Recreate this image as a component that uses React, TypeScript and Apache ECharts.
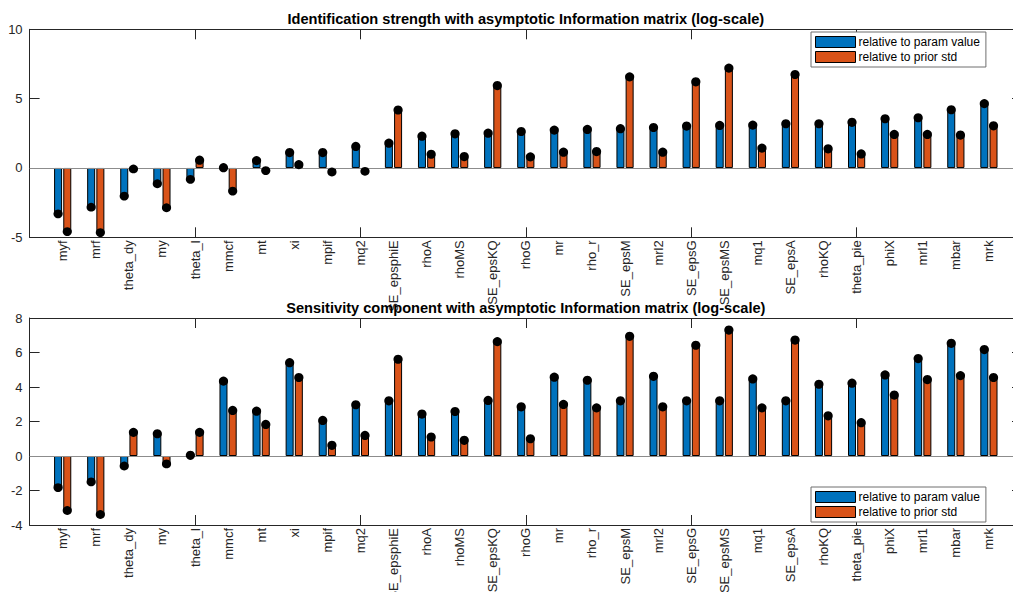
import React, { useEffect, useRef } from "react";
import * as echarts from "echarts";

// Parameter names along the horizontal axis (same order in both panels)
const categories = [
  "myf", "mrf", "theta_dy", "my", "theta_l", "mmcf", "mt", "xi", "mpif", "mq2",
  "SE_epsphiE", "rhoA", "rhoMS", "SE_epsKQ", "rhoG", "mr", "rho_r", "SE_epsM",
  "mrl2", "SE_epsG", "SE_epsMS", "mq1", "SE_epsA", "rhoKQ", "theta_pie", "phiX",
  "mrl1", "mbar", "mrk",
];

// Identification strength (log-scale)
const identParam = [
  -3.31, -2.83, -2.03, -1.14, -0.82, 0.02, 0.53, 1.11, 1.11, 1.55,
  1.79, 2.29, 2.46, 2.51, 2.63, 2.73, 2.78, 2.83, 2.92, 3.02,
  3.07, 3.09, 3.19, 3.19, 3.29, 3.55, 3.62, 4.2, 4.64,
];
const identPrior = [
  -4.59, -4.66, -0.07, -2.87, 0.56, -1.67, -0.19, 0.24, -0.29, -0.24,
  4.18, 0.99, 0.82, 5.94, 0.8, 1.14, 1.18, 6.57, 1.14, 6.21,
  7.2, 1.43, 6.74, 1.38, 1.01, 2.42, 2.42, 2.37, 3.04,
];

// Sensitivity component (log-scale)
const sensParam = [
  -1.83, -1.5, -0.58, 1.29, 0.04, 4.34, 2.6, 5.41, 2.06, 2.97,
  3.2, 2.43, 2.58, 3.22, 2.85, 4.57, 4.39, 3.2, 4.62, 3.2,
  3.2, 4.47, 3.2, 4.16, 4.22, 4.7, 5.65, 6.53, 6.17,
];
const sensPrior = [
  -3.16, -3.39, 1.37, -0.46, 1.37, 2.64, 1.83, 4.55, 0.62, 1.19,
  5.61, 1.1, 0.91, 6.63, 1.0, 2.99, 2.79, 6.94, 2.85, 6.42,
  7.3, 2.79, 6.72, 2.33, 1.93, 3.53, 4.43, 4.66, 4.55,
];

const identTicks = { min: -5, max: 10, interval: 5 };
const sensTicks = { min: -4, max: 8, interval: 2 };

const titles = [
  "Identification strength with asymptotic Information matrix (log-scale)",
  "Sensitivity component with asymptotic Information matrix (log-scale)",
];
const seriesNames = ["relative to param value", "relative to prior std"];

const BLUE = "#0072BD";
const ORANGE = "#D95319";
const AXIS = "#262626";
const FONT = "'Liberation Sans', Arial, Helvetica, sans-serif";

const GRID_LEFT = 29.6;
const GRID_WIDTH = 992.4;
const grids = [
  { top: 29.3, height: 208 },
  { top: 318, height: 207 },
];

// Axis runs from 0 to 30 with the parameters at 1..29
const axisCats = ["", ...categories, ""];
const padBars = (vals: number[]) => [null, ...vals, null];
const padDots = (vals: number[]) => [
  "-",
  ...vals.map((v) => ({ value: v, symbolOffset: [0, v >= 0 ? "-50%" : "50%"] })),
  "-",
];

const tickEvery5 = (i: number) => i > 0 && i < 30 && i % 5 === 0;

function panel(g: number, param: number[], prior: number[], ticks: any) {
  const xAxes = [
    {
      type: "category",
      gridIndex: g,
      data: axisCats,
      boundaryGap: false,
      position: "bottom",
      axisLine: { show: true, onZero: false, lineStyle: { color: AXIS, width: 1 } },
      axisTick: { show: true, inside: true, length: 10, interval: tickEvery5, lineStyle: { color: AXIS } },
      axisLabel: {
        show: true,
        interval: 0,
        rotate: 90,
        margin: 3,
        fontSize: 13,
        color: AXIS,
        fontFamily: FONT,
      },
      splitLine: { show: false },
    },
    {
      type: "category",
      gridIndex: g,
      data: axisCats,
      boundaryGap: false,
      position: "top",
      axisLine: { show: true, onZero: false, lineStyle: { color: AXIS, width: 1 } },
      axisTick: { show: true, inside: true, length: 10, interval: tickEvery5, lineStyle: { color: AXIS } },
      axisLabel: { show: false },
      splitLine: { show: false },
    },
  ];
  const yAxes = [
    {
      type: "value",
      gridIndex: g,
      position: "left",
      ...ticks,
      axisLine: { show: true, onZero: false, lineStyle: { color: AXIS, width: 1 } },
      axisTick: { show: true, inside: true, length: 10, lineStyle: { color: AXIS } },
      axisLabel: { show: true, margin: 7, fontSize: 13, color: AXIS, fontFamily: FONT },
      splitLine: { show: false },
    },
    {
      type: "value",
      gridIndex: g,
      position: "right",
      ...ticks,
      axisLine: { show: true, onZero: false, lineStyle: { color: AXIS, width: 1 } },
      axisTick: { show: true, inside: true, length: 10, lineStyle: { color: AXIS } },
      axisLabel: { show: false },
      splitLine: { show: false },
    },
  ];
  const xi = 2 * g;
  const yi = 2 * g;
  const barCommon = {
    type: "bar",
    xAxisIndex: xi,
    yAxisIndex: yi,
    barWidth: 8,
    barGap: "15%",
    itemStyle: { borderColor: "#000", borderWidth: 1 },
  };
  const dotCommon = {
    type: "pictorialBar",
    xAxisIndex: xi,
    yAxisIndex: yi,
    barWidth: 8,
    barGap: "15%",
    symbol: "circle",
    symbolSize: [9, 9],
    symbolPosition: "end",
    itemStyle: { color: "#000" },
    z: 5,
  };
  const series = [
    {
      ...barCommon,
      name: seriesNames[0],
      data: padBars(param),
      itemStyle: { ...barCommon.itemStyle, color: BLUE },
      markLine: {
        silent: true,
        symbol: "none",
        label: { show: false },
        lineStyle: { color: "#8c8c8c", width: 1, type: "solid" },
        data: [{ yAxis: 0 }],
      },
    },
    {
      ...barCommon,
      name: seriesNames[1],
      data: padBars(prior),
      itemStyle: { ...barCommon.itemStyle, color: ORANGE },
    },
    { ...dotCommon, name: "param markers " + g, data: padDots(param) },
    { ...dotCommon, name: "prior markers " + g, data: padDots(prior) },
  ];
  return { xAxes, yAxes, series };
}

function legendAt(top: number) {
  return {
    data: seriesNames,
    orient: "vertical",
    left: 811,
    top,
    icon: "rect",
    itemWidth: 40,
    itemHeight: 11,
    itemGap: 3,
    padding: [4, 6, 4, 4],
    backgroundColor: "#fff",
    borderColor: "#6e6e6e",
    borderWidth: 1,
    borderRadius: 0,
    selectedMode: false,
    itemStyle: { borderColor: "#000", borderWidth: 1 },
    textStyle: { fontSize: 12, color: "#000", fontFamily: FONT, padding: [0, 0, 0, -2] },
  };
}

export default function App() {
  const ref = useRef<HTMLDivElement>(null);

  useEffect(() => {
    if (!ref.current) return;
    const chart = echarts.init(ref.current, undefined, { renderer: "svg" });
    const p0 = panel(0, identParam, identPrior, identTicks);
    const p1 = panel(1, sensParam, sensPrior, sensTicks);
    const cx = GRID_LEFT + GRID_WIDTH / 2;
    const titleStyle = {
      textAlign: "center",
      textVerticalAlign: "middle",
      fontSize: 14.6,
      fontWeight: "bold",
      fontFamily: FONT,
      fill: "#000",
    };
    chart.setOption({
      animation: false,
      backgroundColor: "#fff",
      textStyle: { fontFamily: FONT },
      grid: grids.map((g) => ({
        left: GRID_LEFT,
        width: GRID_WIDTH,
        top: g.top,
        height: g.height,
        containLabel: false,
        outerBoundsMode: "none",
      })),
      xAxis: [...p0.xAxes, ...p1.xAxes],
      yAxis: [...p0.yAxes, ...p1.yAxes],
      series: [...p0.series, ...p1.series],
      legend: [legendAt(32), legendAt(487)],
      graphic: [
        { type: "text", x: cx, y: 19, z: 10, style: { ...titleStyle, text: titles[0] } },
        { type: "text", x: cx, y: 307.5, z: 10, style: { ...titleStyle, text: titles[1] } },
      ],
    });
    return () => chart.dispose();
  }, []);

  return (
    <div
      style={{
        position: "fixed",
        left: 0,
        top: 0,
        width: 1013,
        height: 592,
        overflow: "hidden",
        background: "#fff",
      }}
    >
      <div ref={ref} style={{ width: 1040, height: 660 }} />
    </div>
  );
}
